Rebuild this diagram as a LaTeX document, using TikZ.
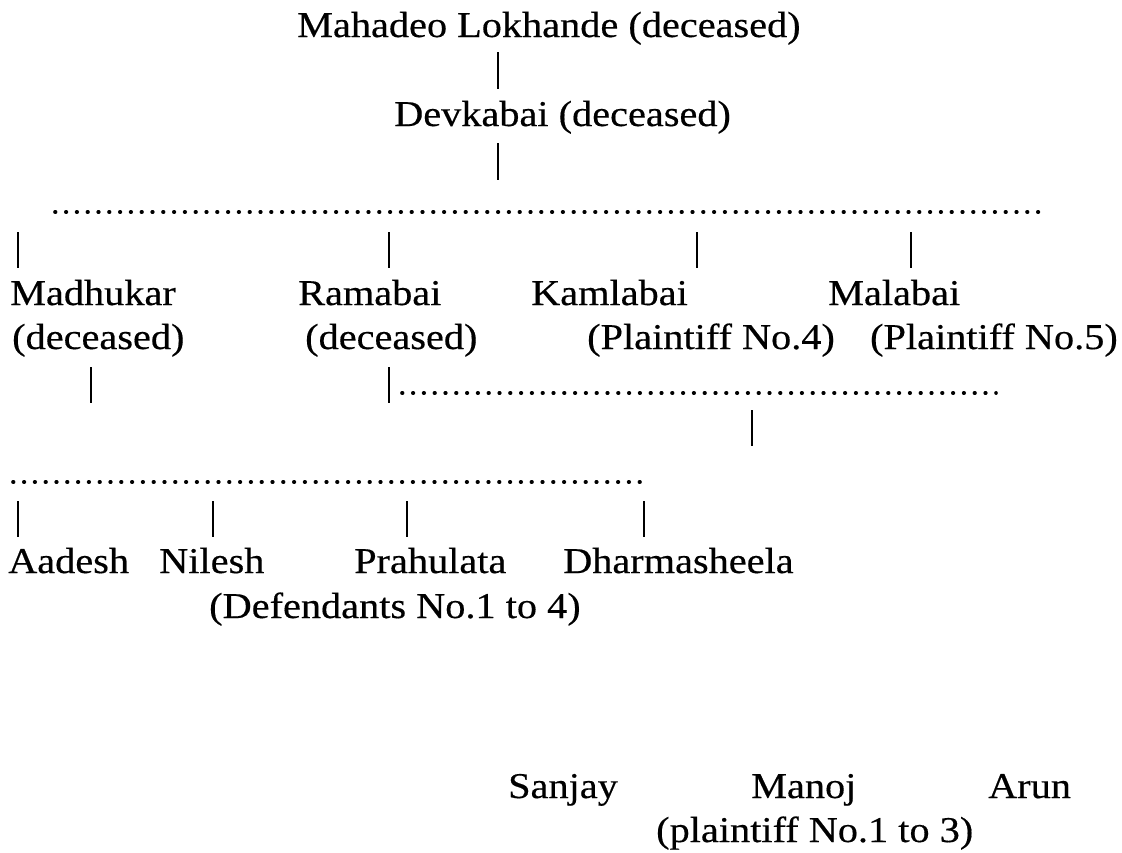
\documentclass[tikz,border=0pt]{standalone}
\usepackage{fontspec}
\setmainfont{Liberation Serif}[FakeStretch=1.11,FakeBold=0.4]
\begin{document}
\begin{tikzpicture}[x=1pt,y=-1pt,
  txt/.style={anchor=base west,inner sep=0pt,font=\fontsize{36.3}{44.5}\selectfont},
  bar/.style={line width=2pt},
  dotline/.style={line width=3.6pt,line cap=round,dash pattern=on 0.6pt off 10.2pt}]
\fill[white] (0,0) rectangle (1122,852);
\useasboundingbox (0,0) rectangle (1122,852);
% people
\node[txt] (mahadeo) at (297,37) {Mahadeo Lokhande (deceased)};
\node[txt] (devkabai) at (394,126) {Devkabai (deceased)};
\node[txt] (madhukar) at (10,305) {Madhukar};
\node[txt] (madhukarD) at (12,349) {(deceased)};
\node[txt] (ramabai) at (298,305) {Ramabai};
\node[txt] (ramabaiD) at (305,349) {(deceased)};
\node[txt] (kamlabai) at (531,305) {Kamlabai};
\node[txt] (kamlabaiP) at (587,349) {(Plaintiff No.4)};
\node[txt] (malabai) at (828,305) {Malabai};
\node[txt,anchor=base east] (malabaiP) at (1118,349) {(Plaintiff No.5)};
\node[txt] (aadesh) at (8,573) {Aadesh};
\node[txt] (nilesh) at (159,573) {Nilesh};
\node[txt] (prahulata) at (354,573) {Prahulata};
\node[txt] (dharma) at (563,573) {Dharmasheela};
\node[txt] (defs) at (209,618) {(Defendants No.1 to 4)};
\node[txt] (sanjay) at (508,798) {Sanjay};
\node[txt] (manoj) at (751,798) {Manoj};
\node[txt] (arun) at (988,798) {Arun};
\node[txt] (plaints) at (656,842) {(plaintiff No.1 to 3)};
% connector end points
\coordinate (b1t) at (498,52);  \coordinate (b1b) at (498,89);
\coordinate (b2t) at (498,143); \coordinate (b2b) at (498,180);
\coordinate (d1l) at (55,212);  \coordinate (d1r) at (1046,212);
\coordinate (c1t) at (18,232);  \coordinate (c1b) at (18,268);
\coordinate (c2t) at (389,232); \coordinate (c2b) at (389,268);
\coordinate (c3t) at (697,232); \coordinate (c3b) at (697,268);
\coordinate (c4t) at (911,232); \coordinate (c4b) at (911,268);
\coordinate (m1t) at (91,367);  \coordinate (m1b) at (91,403);
\coordinate (r1t) at (389,367); \coordinate (r1b) at (389,403);
\coordinate (d2l) at (402,393); \coordinate (d2r) at (996,393);
\coordinate (s1t) at (752,410); \coordinate (s1b) at (752,446);
\coordinate (d3l) at (13,482);  \coordinate (d3r) at (642,482);
\coordinate (g1t) at (18,501);  \coordinate (g1b) at (18,537);
\coordinate (g2t) at (213,501); \coordinate (g2b) at (213,537);
\coordinate (g3t) at (407,501); \coordinate (g3b) at (407,537);
\coordinate (g4t) at (644,501); \coordinate (g4b) at (644,537);
% connectors
\draw[bar] (b1t) -- (b1b);
\draw[bar] (b2t) -- (b2b);
\draw[dotline] (d1l) -- (d1r);
\draw[bar] (c1t) -- (c1b);
\draw[bar] (c2t) -- (c2b);
\draw[bar] (c3t) -- (c3b);
\draw[bar] (c4t) -- (c4b);
\draw[bar] (m1t) -- (m1b);
\draw[bar] (r1t) -- (r1b);
\draw[dotline] (d2l) -- (d2r);
\draw[bar] (s1t) -- (s1b);
\draw[dotline] (d3l) -- (d3r);
\draw[bar] (g1t) -- (g1b);
\draw[bar] (g2t) -- (g2b);
\draw[bar] (g3t) -- (g3b);
\draw[bar] (g4t) -- (g4b);
\end{tikzpicture}
\end{document}
